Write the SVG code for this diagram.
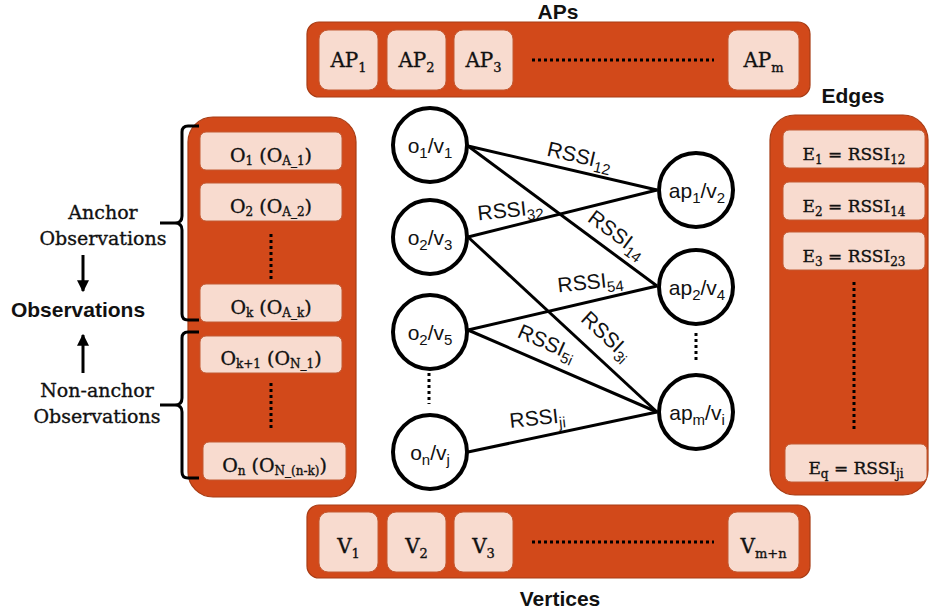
<svg xmlns="http://www.w3.org/2000/svg" width="930" height="613" viewBox="0 0 930 613">
<defs>
<style>
.panel{fill:#D2491A;stroke:#A83C14;stroke-width:1.2}
.box{fill:#F8DBCF;stroke:#C25A33;stroke-width:1}
.st{font-family:"DejaVu Serif","Liberation Serif",serif;fill:#111;stroke:#111;stroke-width:0.35}
.ttl{font-family:"Liberation Sans",Arial,sans-serif;font-weight:bold;fill:#111}
.gt{font-family:"Liberation Sans",Arial,sans-serif;font-size:21px;fill:#111}
.node{fill:#fff;stroke:#000;stroke-width:4}
.edge{stroke:#000;stroke-width:3;fill:none}
.dots{stroke:#000;stroke-width:3;stroke-dasharray:3 3;fill:none}
.brace{stroke:#000;stroke-width:3;fill:none;stroke-linejoin:round}
</style>
<marker id="ah" viewBox="0 0 10 10" refX="9" refY="5" markerWidth="4" markerHeight="4" orient="auto-start-reverse" markerUnits="strokeWidth">
<path d="M0,0 L10,5 L0,10 z" fill="#000"/>
</marker>
</defs>

<!-- Titles -->
<text class="ttl" x="558" y="19" font-size="21" text-anchor="middle">APs</text>
<text class="ttl" x="853" y="103" font-size="21" text-anchor="middle">Edges</text>
<text class="ttl" x="560" y="606" font-size="21" text-anchor="middle">Vertices</text>

<!-- AP bar -->
<g id="aps">
<rect class="panel" x="307" y="22" width="503" height="75" rx="12"/>
<rect class="box" x="319" y="30" width="59" height="60" rx="9"/>
<rect class="box" x="387" y="30" width="59" height="60" rx="9"/>
<rect class="box" x="454" y="30" width="59" height="60" rx="9"/>
<rect class="box" x="728" y="30" width="71" height="60" rx="9"/>
<text class="st" x="348.5" y="67" font-size="20" text-anchor="middle">AP<tspan font-size="13" dy="5">1</tspan></text>
<text class="st" x="416.5" y="67" font-size="20" text-anchor="middle">AP<tspan font-size="13" dy="5">2</tspan></text>
<text class="st" x="483.5" y="67" font-size="20" text-anchor="middle">AP<tspan font-size="13" dy="5">3</tspan></text>
<text class="st" x="763.5" y="67" font-size="20" text-anchor="middle">AP<tspan font-size="13" dy="5">m</tspan></text>
<line class="dots" x1="532" y1="60" x2="714" y2="60"/>
</g>

<!-- Vertices bar -->
<g id="vertices">
<rect class="panel" x="307" y="505" width="503" height="73" rx="12"/>
<rect class="box" x="319" y="512" width="59" height="60" rx="9"/>
<rect class="box" x="387" y="512" width="59" height="60" rx="9"/>
<rect class="box" x="454" y="512" width="59" height="60" rx="9"/>
<rect class="box" x="728" y="512" width="71" height="60" rx="9"/>
<text class="st" x="348.5" y="553" font-size="20" text-anchor="middle">V<tspan font-size="13" dy="5">1</tspan></text>
<text class="st" x="416.5" y="553" font-size="20" text-anchor="middle">V<tspan font-size="13" dy="5">2</tspan></text>
<text class="st" x="483.5" y="553" font-size="20" text-anchor="middle">V<tspan font-size="13" dy="5">3</tspan></text>
<text class="st" x="763.5" y="553" font-size="20" text-anchor="middle">V<tspan font-size="13" dy="5">m+n</tspan></text>
<line class="dots" x1="532" y1="542" x2="714" y2="542"/>
</g>

<!-- Observations panel -->
<g id="observations">
<rect class="panel" x="188" y="117" width="168" height="380" rx="25"/>
<rect class="box" x="200" y="132" width="142" height="38" rx="6"/>
<rect class="box" x="200" y="183" width="142" height="38" rx="6"/>
<rect class="box" x="200" y="284" width="142" height="38" rx="6"/>
<rect class="box" x="200" y="336" width="142" height="37" rx="6"/>
<rect class="box" x="203" y="442" width="143" height="38" rx="6"/>
<text class="st" x="271" y="162" font-size="19" text-anchor="middle">O<tspan font-size="12" dy="3">1</tspan><tspan dy="-3"> (O</tspan><tspan font-size="12" dy="3">A_1</tspan><tspan dy="-3">)</tspan></text>
<text class="st" x="271" y="213" font-size="19" text-anchor="middle">O<tspan font-size="12" dy="3">2</tspan><tspan dy="-3"> (O</tspan><tspan font-size="12" dy="3">A_2</tspan><tspan dy="-3">)</tspan></text>
<text class="st" x="271" y="314" font-size="19" text-anchor="middle">O<tspan font-size="12" dy="3">k</tspan><tspan dy="-3"> (O</tspan><tspan font-size="12" dy="3">A_k</tspan><tspan dy="-3">)</tspan></text>
<text class="st" x="271" y="365" font-size="19" text-anchor="middle">O<tspan font-size="12" dy="3">k+1</tspan><tspan dy="-3"> (O</tspan><tspan font-size="12" dy="3">N_1</tspan><tspan dy="-3">)</tspan></text>
<text class="st" x="274.5" y="472" font-size="19" text-anchor="middle">O<tspan font-size="12" dy="3">n</tspan><tspan dy="-3"> (O</tspan><tspan font-size="12" dy="3">N_(n-k)</tspan><tspan dy="-3">)</tspan></text>
<line class="dots" x1="271" y1="234" x2="271" y2="279"/>
<line class="dots" x1="271" y1="383" x2="271" y2="428"/>
</g>

<!-- Edges panel -->
<g id="edges-list">
<rect class="panel" x="770" y="115" width="158" height="380" rx="25"/>
<rect class="box" x="783" y="130" width="142" height="38" rx="6"/>
<rect class="box" x="783" y="182" width="142" height="38" rx="6"/>
<rect class="box" x="783" y="232" width="142" height="38" rx="6"/>
<rect class="box" x="785" y="444" width="142" height="38" rx="6"/>
<text class="st" x="854" y="160" font-size="17" text-anchor="middle">E<tspan font-size="12" dy="4">1</tspan><tspan dy="-4"> = RSSI</tspan><tspan font-size="12" dy="4">12</tspan></text>
<text class="st" x="854" y="212" font-size="17" text-anchor="middle">E<tspan font-size="12" dy="4">2</tspan><tspan dy="-4"> = RSSI</tspan><tspan font-size="12" dy="4">14</tspan></text>
<text class="st" x="854" y="262" font-size="17" text-anchor="middle">E<tspan font-size="12" dy="4">3</tspan><tspan dy="-4"> = RSSI</tspan><tspan font-size="12" dy="4">23</tspan></text>
<text class="st" x="856" y="474" font-size="17" text-anchor="middle">E<tspan font-size="12" dy="4">q</tspan><tspan dy="-4"> = RSSI</tspan><tspan font-size="12" dy="4">ji</tspan></text>
<line class="dots" x1="854" y1="282" x2="854" y2="429"/>
</g>

<!-- Left labels and braces -->
<g id="labels-left">
<path class="brace" d="M199,126 H188 Q182,126 182,132 V216 Q182,223 175,223 H160 M175,223 Q182,223 182,230 V314 Q182,320 188,320 H199"/>
<path class="brace" d="M199,332 H188 Q182,332 182,338 V398 Q182,405 175,405 H160 M175,405 Q182,405 182,412 V472 Q182,478 188,478 H199"/>
<text class="st" x="103" y="219" font-size="19" text-anchor="middle">Anchor</text>
<text class="st" x="103" y="245" font-size="19" text-anchor="middle">Observations</text>
<text class="ttl" x="78" y="317" font-size="21" text-anchor="middle">Observations</text>
<text class="st" x="97" y="397" font-size="19" text-anchor="middle">Non-anchor</text>
<text class="st" x="97" y="423" font-size="19" text-anchor="middle">Observations</text>
<line x1="83" y1="255" x2="83" y2="291" stroke="#000" stroke-width="3" marker-end="url(#ah)"/>
<line x1="83" y1="373" x2="83" y2="335" stroke="#000" stroke-width="3" marker-end="url(#ah)"/>
</g>

<!-- Connectors -->
<g id="connectors">
<line class="edge" x1="468" y1="146" x2="657" y2="190"/>
<line class="edge" x1="468" y1="146" x2="657" y2="286"/>
<line class="edge" x1="468" y1="237" x2="657" y2="190"/>
<line class="edge" x1="468" y1="237" x2="657" y2="412"/>
<line class="edge" x1="468" y1="330" x2="657" y2="286"/>
<line class="edge" x1="468" y1="330" x2="657" y2="412"/>
<line class="edge" x1="468" y1="452" x2="657" y2="412"/>
<text class="gt" text-anchor="middle" transform="translate(578,163) rotate(13)">RSSI<tspan font-size="15" dy="5">12</tspan></text>
<text class="gt" text-anchor="middle" transform="translate(613,240) rotate(36.5)">RSSI<tspan font-size="15" dy="5">14</tspan></text>
<text class="gt" text-anchor="middle" transform="translate(511,217) rotate(-6)">RSSI<tspan font-size="15" dy="5">32</tspan></text>
<text class="gt" text-anchor="middle" transform="translate(602,341) rotate(43)">RSSI<tspan font-size="15" dy="5">3i</tspan></text>
<text class="gt" text-anchor="middle" transform="translate(591,289) rotate(-6)">RSSI<tspan font-size="15" dy="5">54</tspan></text>
<text class="gt" text-anchor="middle" transform="translate(544,349) rotate(24)">RSSI<tspan font-size="15" dy="5">5i</tspan></text>
<text class="gt" text-anchor="middle" transform="translate(538,425) rotate(-6)">RSSI<tspan font-size="15" dy="5">ji</tspan></text>
</g>

<!-- Graph nodes -->
<g id="o1v1"><circle class="node" cx="430" cy="145" r="37"/><text class="gt" x="430" y="153" text-anchor="middle">o<tspan font-size="15" dy="5">1</tspan><tspan dy="-5">/v</tspan><tspan font-size="15" dy="5">1</tspan></text></g>
<g id="o2v3"><circle class="node" cx="430" cy="237" r="37"/><text class="gt" x="430" y="245" text-anchor="middle">o<tspan font-size="15" dy="5">2</tspan><tspan dy="-5">/v</tspan><tspan font-size="15" dy="5">3</tspan></text></g>
<g id="o2v5"><circle class="node" cx="430" cy="332" r="37"/><text class="gt" x="430" y="340" text-anchor="middle">o<tspan font-size="15" dy="5">2</tspan><tspan dy="-5">/v</tspan><tspan font-size="15" dy="5">5</tspan></text></g>
<g id="onvj"><circle class="node" cx="430" cy="452" r="37"/><text class="gt" x="430" y="460" text-anchor="middle">o<tspan font-size="15" dy="5">n</tspan><tspan dy="-5">/v</tspan><tspan font-size="15" dy="5">j</tspan></text></g>
<g id="ap1v2"><circle class="node" cx="696" cy="190" r="37"/><text class="gt" x="697" y="198" text-anchor="middle">ap<tspan font-size="15" dy="5">1</tspan><tspan dy="-5">/v</tspan><tspan font-size="15" dy="5">2</tspan></text></g>
<g id="ap2v4"><circle class="node" cx="696" cy="287" r="37"/><text class="gt" x="697" y="295" text-anchor="middle">ap<tspan font-size="15" dy="5">2</tspan><tspan dy="-5">/v</tspan><tspan font-size="15" dy="5">4</tspan></text></g>
<g id="apmvi"><circle class="node" cx="696" cy="412" r="37"/><text class="gt" x="697" y="420" text-anchor="middle">ap<tspan font-size="15" dy="5">m</tspan><tspan dy="-5">/v</tspan><tspan font-size="15" dy="5">i</tspan></text></g>
<line class="dots" x1="429" y1="373" x2="429" y2="404"/>
<line class="dots" x1="696" y1="333" x2="696" y2="363"/>
</svg>
